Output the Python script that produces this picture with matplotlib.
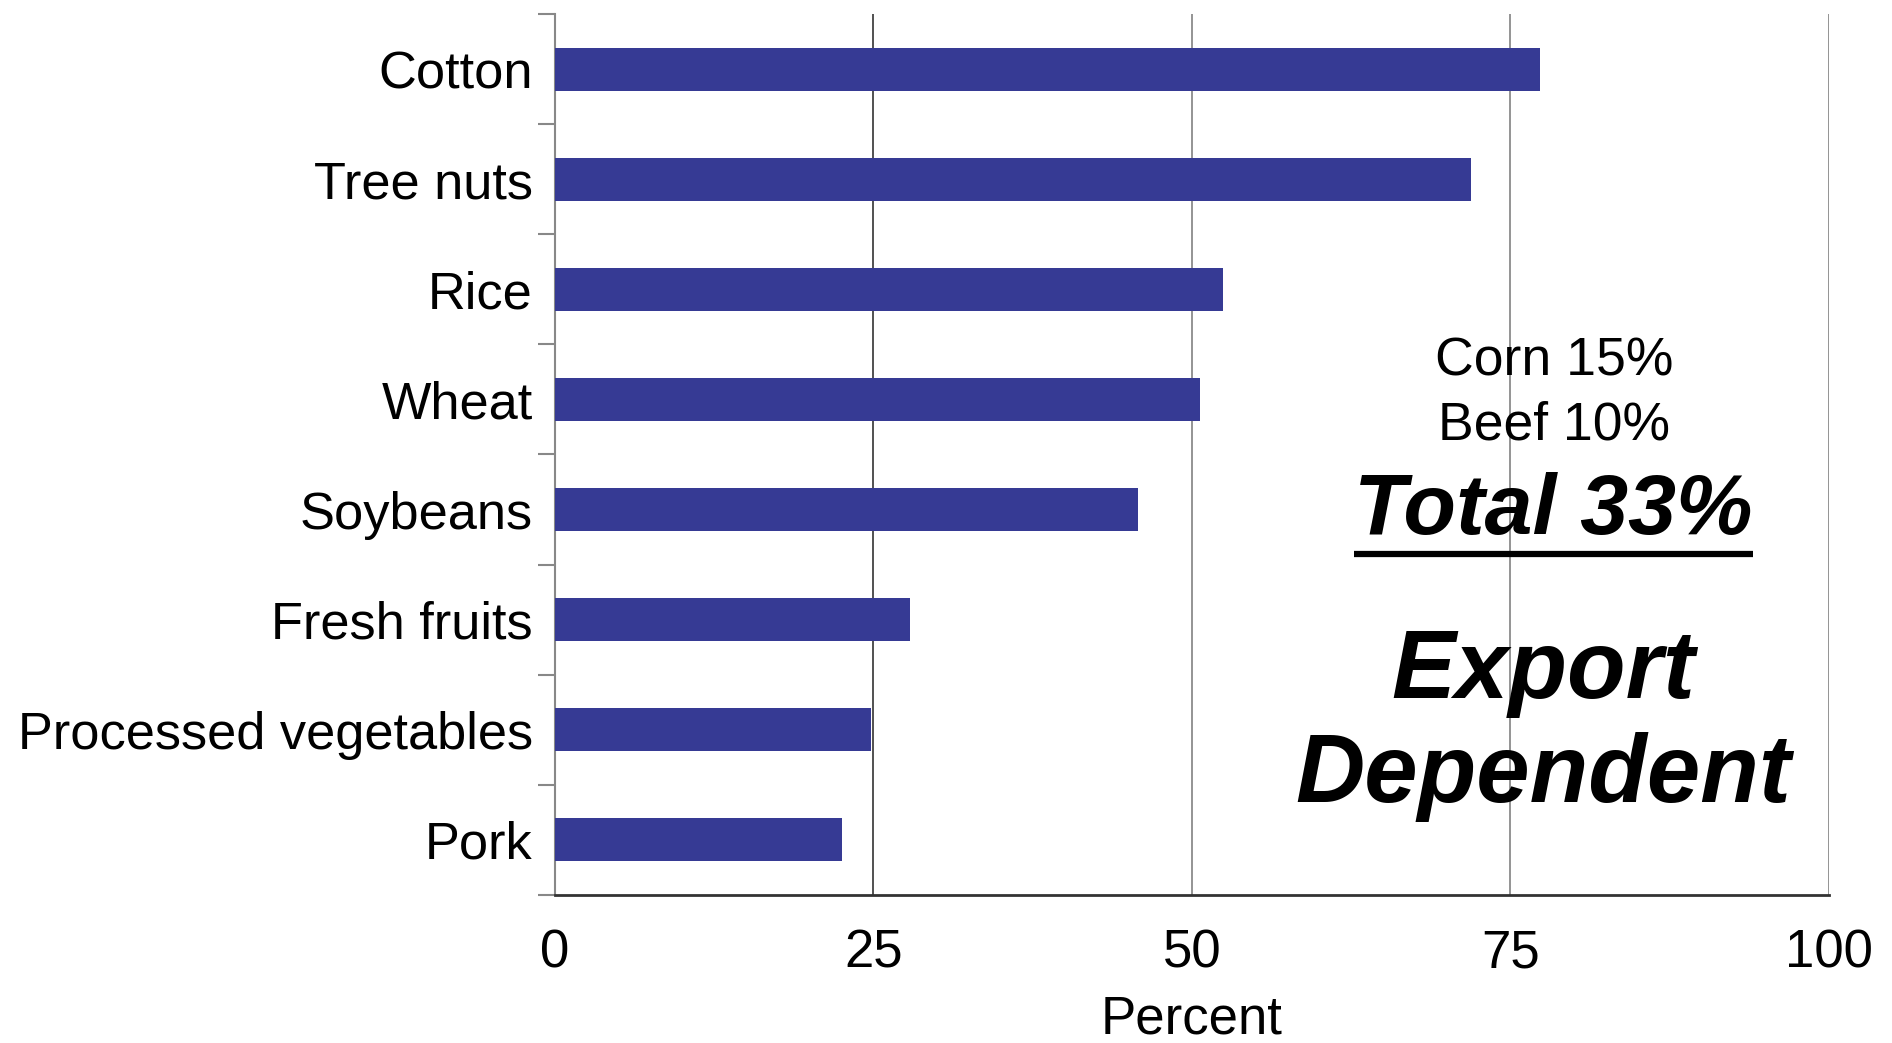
import numpy as np
import matplotlib.pyplot as plt
from matplotlib.ticker import FixedLocator

plt.rcParams['font.family'] = ['Liberation Sans', 'DejaVu Sans']

# Данные
crops = ["Cotton", "Tree nuts", "Rice", "Wheat", "Soybeans",
         "Fresh fruits", "Processed vegetables", "Pork"]
percent = [77.3, 71.9, 52.4, 50.6, 45.8, 27.9, 24.8, 22.5]
x_ticks = [0, 25, 50, 75, 100]
note_lines = ["Corn 15%", "Beef 10%"]
total_text = "Total 33%"
big_text = "Export\nDependent"

fig = plt.figure(figsize=(18.92, 10.43), dpi=100)
ax = fig.add_axes([0.2933, 0.1419, 0.6734, 0.8447])

y = np.arange(len(crops))
ax.barh(y, percent, height=0.39, color='#363a94', zorder=3)

ax.set_xlim(0, 100)
ax.set_ylim(len(crops) - 0.5, -0.5)

# вертикальная сетка
for xv in x_ticks[1:]:
    ax.axvline(xv, color='#222222' if xv == 25 else '#777777', lw=1.1, zorder=1)

ax.set_xticks(x_ticks)
ax.set_xticklabels([str(v) for v in x_ticks], fontsize=38)
ax.tick_params(axis='x', length=0, pad=24)
ax.set_xlabel("Percent", fontsize=38, labelpad=12)

ax.set_yticks(y)
ax.set_yticklabels(crops, fontsize=37.7)
ax.tick_params(axis='y', length=0, pad=16)
ax.yaxis.set_minor_locator(FixedLocator(np.arange(-0.5, len(crops), 1.0)))
ax.tick_params(axis='y', which='minor', length=12, color='#888888', width=1.5)

for s in ['top', 'right']:
    ax.spines[s].set_visible(False)
ax.spines['left'].set_color('#888888')
ax.spines['left'].set_linewidth(1.5)
ax.spines['bottom'].set_color('#333333')
ax.spines['bottom'].set_linewidth(2)

# подписи справа
ax.text(78.4, 2.66, note_lines[0], fontsize=38.5, ha='center', va='center')
ax.text(78.4, 3.24, note_lines[1], fontsize=38.5, ha='center', va='center')
t = ax.text(78.4, 4.02, total_text, fontsize=62, fontweight='bold',
            fontstyle='italic', ha='center', va='center')
ax.text(77.6, 5.96, big_text, fontsize=69, fontweight='bold',
        fontstyle='italic', ha='center', va='center', linespacing=1.2)

# подчеркивание для "Total 33%"
fig.canvas.draw()
bb = t.get_window_extent().transformed(ax.transData.inverted())
ax.plot([bb.x0, bb.x1], [bb.y0 + 0.02, bb.y0 + 0.02], color='black', lw=4.5,
        solid_capstyle='butt', zorder=4)

fig.savefig("out.png", dpi=100)
